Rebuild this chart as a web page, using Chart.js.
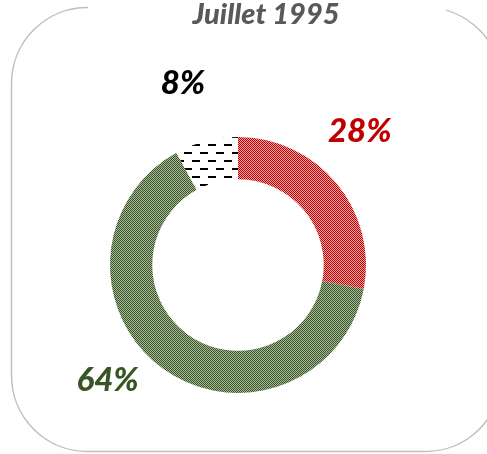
<!DOCTYPE html>
<html>
<head>
<meta charset="utf-8">
<script src="https://cdn.jsdelivr.net/npm/chart.js@4/dist/chart.umd.min.js"></script>
<style>
  html, body { margin: 0; padding: 0; background: #fff; }
  #wrap { width: 487px; height: 454px; }
</style>
</head>
<body>
<div id="wrap"><canvas id="chart" width="487" height="454"></canvas></div>
<script>
const title = 'Juillet 1995'
const categories = ['A', 'B', 'C']
const values = [28, 64, 8]
const valueLabels = ['28%', '64%', '8%']
const labelColors = ['#C00000', '#375623', '#000000']

// small pattern tiles like the Excel fills
function checker(color, light) {
    const c = document.createElement('canvas')
    c.width = 2; c.height = 2
    const g = c.getContext('2d')
    g.fillStyle = light
    g.fillRect(0, 0, 2, 2)
    g.fillStyle = color
    g.fillRect(0, 0, 1, 1)
    g.fillRect(1, 1, 1, 1)
    return g.createPattern(c, 'repeat')
}
function dashes(color) {
    const c = document.createElement('canvas')
    c.width = 16; c.height = 16
    const g = c.getContext('2d')
    g.fillStyle = '#fff'
    g.fillRect(0, 0, 16, 16)
    g.fillStyle = color
    g.fillRect(0, 0, 8, 2)
    g.fillRect(8, 8, 8, 2)
    return g.createPattern(c, 'repeat')
}

const ctx = document.getElementById('chart').getContext('2d')
const FONT = 'Lato, "Open Sans", sans-serif'

// label placement: extra angle (deg) and radius factor, per slice
const labelAdjust = [
    { da: -8, rf: 1.41 },
    { da: 12.5, rf: 1.36 },
    { da: -2.5, rf: 1.48 },
]

const frame = {
    id: 'frame',
    beforeDraw(chart) {
        const c = chart.ctx
        c.save()
        c.strokeStyle = '#BFBFBF'
        c.lineWidth = 1.5
        c.beginPath()
        c.roundRect(11.5, 7.5, 490, 444, 76)
        c.stroke()
        c.fillStyle = '#fff'
        c.fillRect(88, 0, 358, 15)
        c.font = `italic 900 29px ${FONT}`
        c.fillStyle = '#595959'
        c.textAlign = 'center'
        c.textBaseline = 'alphabetic'
        c.fillText(title, 266, 24)
        c.restore()
    },
    afterDraw(chart) {
        const c = chart.ctx
        const meta = chart.getDatasetMeta(0)
        c.save()
        c.font = `italic 900 33px ${FONT}`
        c.textAlign = 'center'
        c.textBaseline = 'middle'
        meta.data.forEach((arc, i) => {
            const p = arc.getProps(['x', 'y', 'startAngle', 'endAngle', 'outerRadius'], true)
            const a = (p.startAngle + p.endAngle) / 2 + labelAdjust[i].da * Math.PI / 180
            const r = p.outerRadius * labelAdjust[i].rf
            c.fillStyle = labelColors[i]
            c.fillText(valueLabels[i], p.x + Math.cos(a) * r, p.y + Math.sin(a) * r)
        })
        c.restore()
    }
}

new Chart(ctx, {
    type: 'doughnut',
    data: {
        labels: categories,
        datasets: [{
            data: values,
            backgroundColor: [
                checker('#C00000', '#EBA8A8'),
                checker('#375623', '#A9B89E'),
                dashes('#000000')
            ],
            borderWidth: 0,
        }]
    },
    options: {
        responsive: false,
        animation: false,
        cutout: '67%',
        layout: { padding: { left: 110, right: 121, top: 137, bottom: 61 } },
        plugins: {
            legend: { display: false },
            tooltip: { enabled: false },
        }
    },
    plugins: [frame]
})
</script>
</body>
</html>
